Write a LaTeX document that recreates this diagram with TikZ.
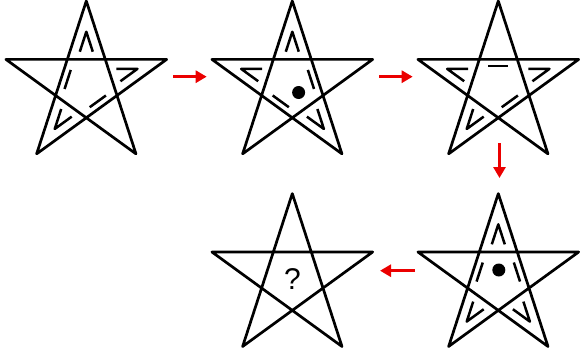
\documentclass[tikz,border=0pt]{standalone}
\usepackage{fontspec}
\setmainfont{Liberation Sans}
\usetikzlibrary{calc,arrows.meta}
\definecolor{arrowred}{RGB}{235,0,0}
\tikzset{
  starline/.style={draw=black, line width=2.7pt, line join=round},
  markline/.style={draw=black, line width=2.5pt, line join=round, line cap=butt},
  redarrow/.style={draw=arrowred, line width=2.8pt, -{Triangle[length=11pt,width=12pt]}},
  dotmark/.style={fill=black},
  qmark/.style={font=\fontsize{30}{30}\selectfont, inner sep=0pt}
}
\newcommand\PSR{84.5}
\newcommand\PSRo{53.75}
\newcommand\PSL{21}
\newcommand\PSMr{19.6}
\newcommand\PSMh{10}
\newcommand\PSStar{\draw[starline] (90:\PSR) -- (-54:\PSR) -- (162:\PSR) -- (18:\PSR) -- (-126:\PSR) -- cycle;}
\newcommand\PSTip[1]{\draw[markline] ($(#1:\PSRo)+({#1+198}:\PSL)$) -- (#1:\PSRo) -- ($(#1:\PSRo)+({#1+162}:\PSL)$);}
\newcommand\PSMid[1]{\draw[markline] ($(#1:\PSMr)+({#1+90}:\PSMh)$) -- ($(#1:\PSMr)+({#1-90}:\PSMh)$);}
\begin{document}
\begin{tikzpicture}[x=1pt,y=1pt]
\useasboundingbox (0,0) rectangle (581,360);
% star 1
\begin{scope}[shift={(86.3,274.5)}]
  \PSStar
  \PSTip{90}\PSTip{18}\PSTip{-126}
  \PSMid{162}\PSMid{-54}
\end{scope}
% star 2
\begin{scope}[shift={(292.3,274.5)}]
  \PSStar
  \PSTip{90}\PSTip{162}\PSTip{-54}
  \PSMid{18}\PSMid{-126}
  \fill[dotmark] (6.3,-7.0) circle[radius=6.5];
\end{scope}
% star 3
\begin{scope}[shift={(498.3,274.5)}]
  \PSStar
  \PSTip{162}\PSTip{18}\PSTip{-126}
  \PSMid{90}\PSMid{-54}
\end{scope}
% star 4
\begin{scope}[shift={(498.3,81.9)}]
  \PSStar
  \PSTip{90}\PSTip{-126}\PSTip{-54}
  \PSMid{162}\PSMid{18}
  \fill[dotmark] (0.5,8.1) circle[radius=6.5];
\end{scope}
% star 5
\begin{scope}[shift={(292.3,81.9)}]
  \PSStar
  \node[qmark] (q) at (0.2,-0.5) {?};
\end{scope}
% arrows
\coordinate (a1s) at (173,283.3);
\coordinate (a1e) at (206.7,283.3);
\coordinate (a2s) at (379,283.3);
\coordinate (a2e) at (412.7,283.3);
\coordinate (a3s) at (499.5,217);
\coordinate (a3e) at (499.5,182);
\coordinate (a4s) at (415,89.3);
\coordinate (a4e) at (380,89.3);
\draw[redarrow] (a1s) -- (a1e);
\draw[redarrow] (a2s) -- (a2e);
\draw[redarrow] (a3s) -- (a3e);
\draw[redarrow] (a4s) -- (a4e);
\end{tikzpicture}
\end{document}
